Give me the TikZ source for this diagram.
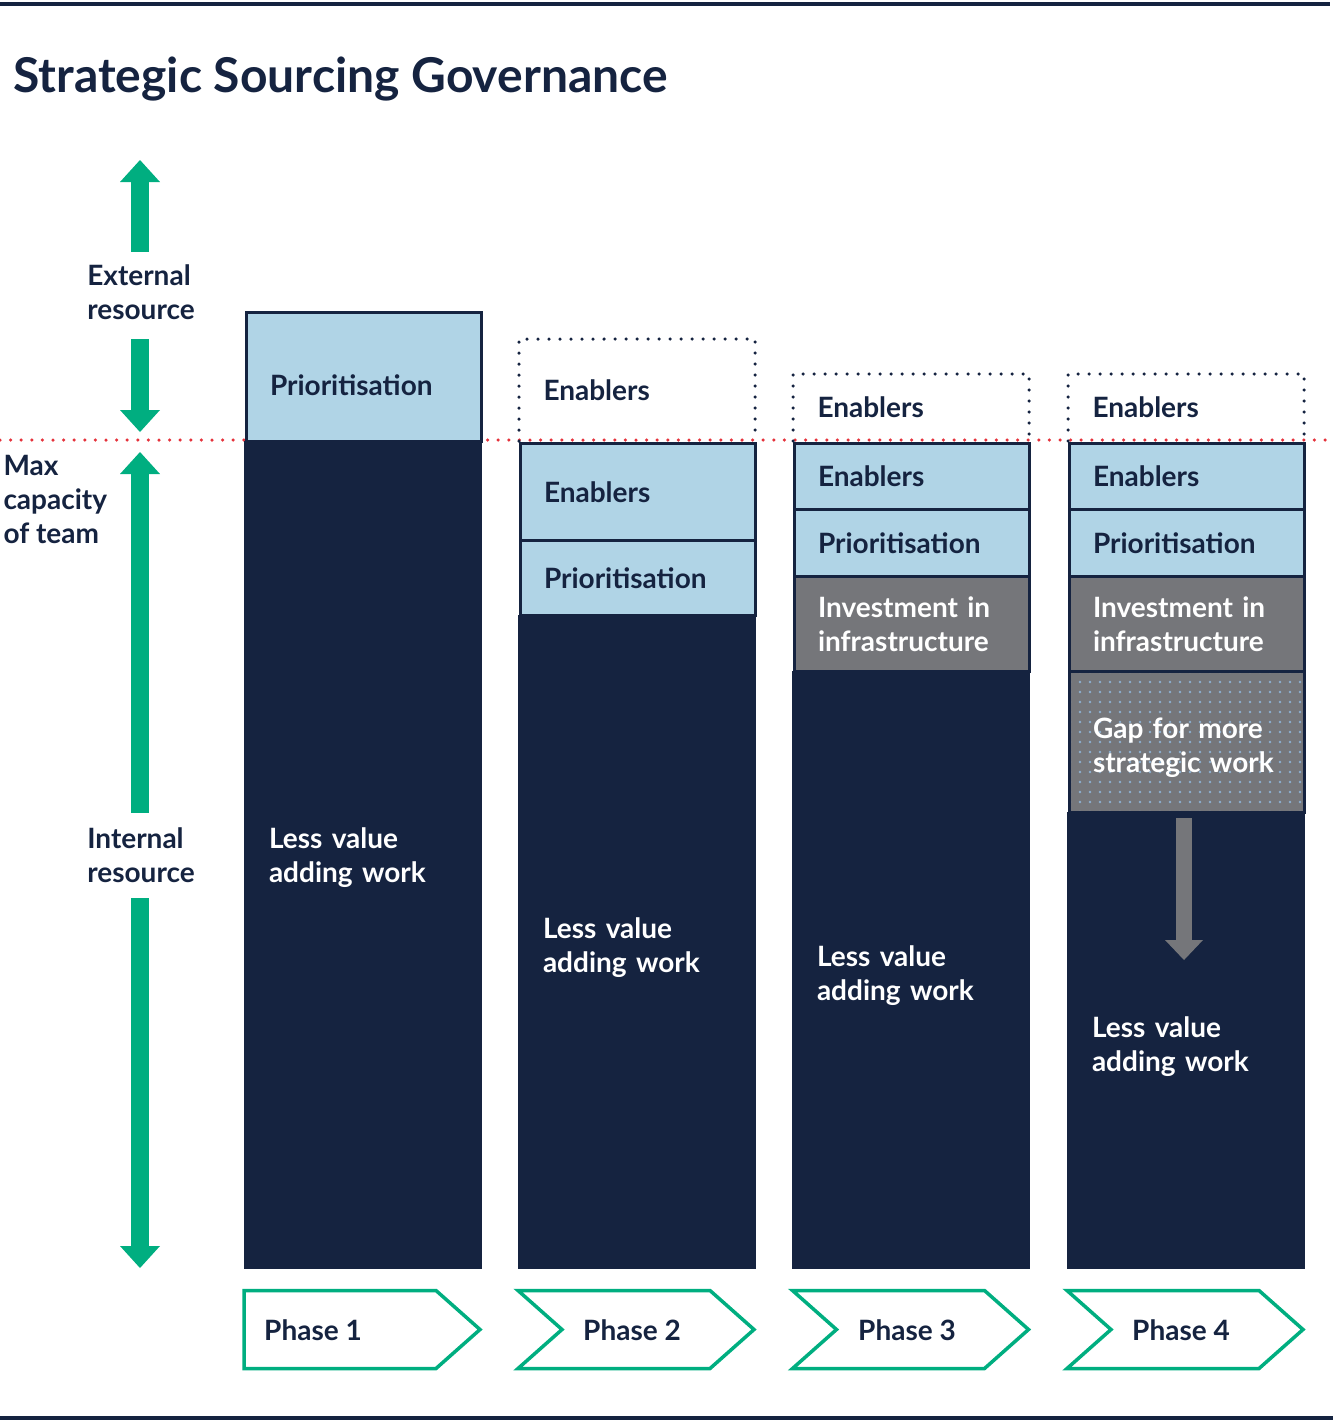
\documentclass[tikz,border=0pt]{standalone}
\usepackage{fontspec}
\setmainfont{Lato}
\usetikzlibrary{arrows.meta,patterns.meta}

\definecolor{navy}{RGB}{21,35,64}
\definecolor{paleblue}{RGB}{176,212,230}
\definecolor{midgrey}{RGB}{117,118,122}
\definecolor{sgreen}{RGB}{0,174,128}
\definecolor{dotred}{RGB}{229,50,59}
\definecolor{gapdot}{RGB}{141,176,208}

\newcommand{\bodyfont}{\fontsize{28}{34}\selectfont\bfseries}

\tikzset{every picture/.style={line width=1pt}}
\tikzset{
  palebox/.style={draw=navy, line width=3pt, fill=paleblue, text=navy, font=\bodyfont, text width=187pt, inner xsep=24pt, inner ysep=0pt, align=left, anchor=north west},
  greybox/.style={palebox, fill=midgrey, text=white},
  gapbox/.style={palebox, text=white, preaction={fill=midgrey}, fill=none, pattern={Dots[distance=10pt, radius=1.4pt]}, pattern color=gapdot, text depth=27.6pt},
  workbox/.style={fill=navy, text=white, font=\bodyfont, text width=187pt, inner xsep=25.5pt, inner ysep=0pt, align=left, anchor=north west, text depth=27.6pt},
  extrabox/.style={text=navy, font=\bodyfont, text width=187pt, inner xsep=24pt, inner ysep=0pt, align=left, anchor=north west},
  sidelbl/.style={text=navy, font=\bodyfont, inner sep=0pt, align=left},
  phaselbl/.style={text=navy, font=\bodyfont, inner sep=0pt},
  phasebox/.style={draw=sgreen, line width=3.5pt, line join=miter},
  dotline/.style={navy, line width=3.5pt, line cap=round, dash pattern=on 0pt off 11pt},
  redline/.style={dotred, line width=3.5pt, line cap=round, dash pattern=on 0pt off 10.6pt},
  garrow/.style={sgreen, line width=18pt, -{Triangle[width=40pt, length=22pt, line width=0pt]}},
  grarrow/.style={midgrey, line width=16pt, -{Triangle[width=38pt, length=20pt, line width=0pt]}},
}

\begin{document}
\begin{tikzpicture}[x=1pt,y=1pt,yscale=-1]
\useasboundingbox (0,0) rectangle (1333,1422);

%Straight Lines: top and bottom rules
\draw [navy, line width=3.5pt] (0,4) -- (1330,4) ;
\draw [navy, line width=3.5pt] (0,1418) -- (1333,1418) ;

% Text Node
\node [anchor=base west, inner sep=0pt, text=navy, font=\fontsize{48}{58}\selectfont\bfseries] (title) at (13,92) {Strategic Sourcing Governance};

%Straight Lines: max capacity
\draw [redline] (0,440) -- (1333,440) ;

%Shape: Column 1
\node [workbox, minimum height=828pt, text depth=33.6pt] (c1work) at (243,440) {Less value\\adding work};
\node [palebox, minimum height=129.5pt, text height=36.7pt, text depth=0pt] (c1prio) at (244.5,310.5) {Prioritisation};

%Shape: Column 2
\node [workbox, minimum height=654pt] (c2work) at (517,614) {Less value\\adding work};
\node [extrabox, minimum height=101pt] (c2extra) at (519,339) {Enablers};
\draw [dotline] (c2extra.south west) -- (c2extra.north west) -- (c2extra.north east) -- (c2extra.south east) ;
\node [palebox, minimum height=97.5pt] (c2enab) at (518.5,441.5) {Enablers};
\node [palebox, minimum height=75pt] (c2prio) at (518.5,539) {Prioritisation};

%Shape: Column 3
\node [workbox, minimum height=598pt] (c3work) at (791,670) {Less value\\adding work};
\node [extrabox, minimum height=66pt] (c3extra) at (793,374) {Enablers};
\draw [dotline] (c3extra.south west) -- (c3extra.north west) -- (c3extra.north east) -- (c3extra.south east) ;
\node [palebox, minimum height=66.5pt] (c3enab) at (792.5,441.5) {Enablers};
\node [palebox, minimum height=67pt] (c3prio) at (792.5,508) {Prioritisation};
\node [greybox, minimum height=95pt] (c3invest) at (792.5,575) {Investment in\\infrastructure};

%Shape: Column 4
\node [workbox, minimum height=457pt, text depth=25.6pt] (c4work) at (1066,811) {Less value\\adding work};
\node [extrabox, minimum height=66pt] (c4extra) at (1068,374) {Enablers};
\draw [dotline] (c4extra.south west) -- (c4extra.north west) -- (c4extra.north east) -- (c4extra.south east) ;
\node [palebox, minimum height=66.5pt] (c4enab) at (1067.5,441.5) {Enablers};
\node [palebox, minimum height=67pt] (c4prio) at (1067.5,508) {Prioritisation};
\node [greybox, minimum height=95pt] (c4invest) at (1067.5,575) {Investment in\\infrastructure};
\node [gapbox, minimum height=141pt] (c4gap) at (1067.5,670) {Gap for more\\strategic work};

%Straight Lines: gap arrow
\coordinate (gapend) at (1184,960);
\draw [grarrow, shorten <=4pt] (c4gap.south -| gapend) -- (gapend) ;

% Text Node
\node [sidelbl] (extres) at (141,292) {External\\resource};
\node [sidelbl] (intres) at (141,855) {Internal\\resource};
\node [sidelbl, anchor=north west] (maxcap) at (3,455) {Max\\capacity\\of team};

%Straight Lines: resource arrows
\coordinate (exttip) at (140,160);
\coordinate (captop) at (140,432);
\coordinate (capbot) at (140,452);
\coordinate (basetip) at (140,1268);
\draw [garrow, shorten <=12pt] (extres.north -| exttip) -- (exttip) ;
\draw [garrow, shorten <=19pt] (extres.south -| exttip) -- (captop) ;
\draw [garrow, shorten <=14pt] (intres.north -| exttip) -- (capbot) ;
\draw [garrow, shorten <=15pt] (intres.south -| exttip) -- (basetip) ;

%Shape: Phases
\draw [phasebox] (244,1290.5) -- (436,1290.5) -- (480,1329.5) -- (436,1368.5) -- (244,1368.5) -- cycle ;
\draw [phasebox] (518,1290.5) -- (710,1290.5) -- (754,1329.5) -- (710,1368.5) -- (518,1368.5) -- (562,1329.5) -- cycle ;
\draw [phasebox] (792.5,1290.5) -- (984.5,1290.5) -- (1028.5,1329.5) -- (984.5,1368.5) -- (792.5,1368.5) -- (836.5,1329.5) -- cycle ;
\draw [phasebox] (1067,1290.5) -- (1259,1290.5) -- (1303,1329.5) -- (1259,1368.5) -- (1067,1368.5) -- (1111,1329.5) -- cycle ;

% Text Node
\node [phaselbl] (phase1) at (313,1330) {Phase 1};
\node [phaselbl] (phase2) at (632,1330) {Phase 2};
\node [phaselbl] (phase3) at (907,1330) {Phase 3};
\node [phaselbl] (phase4) at (1181,1330) {Phase 4};

\end{tikzpicture}
\end{document}
